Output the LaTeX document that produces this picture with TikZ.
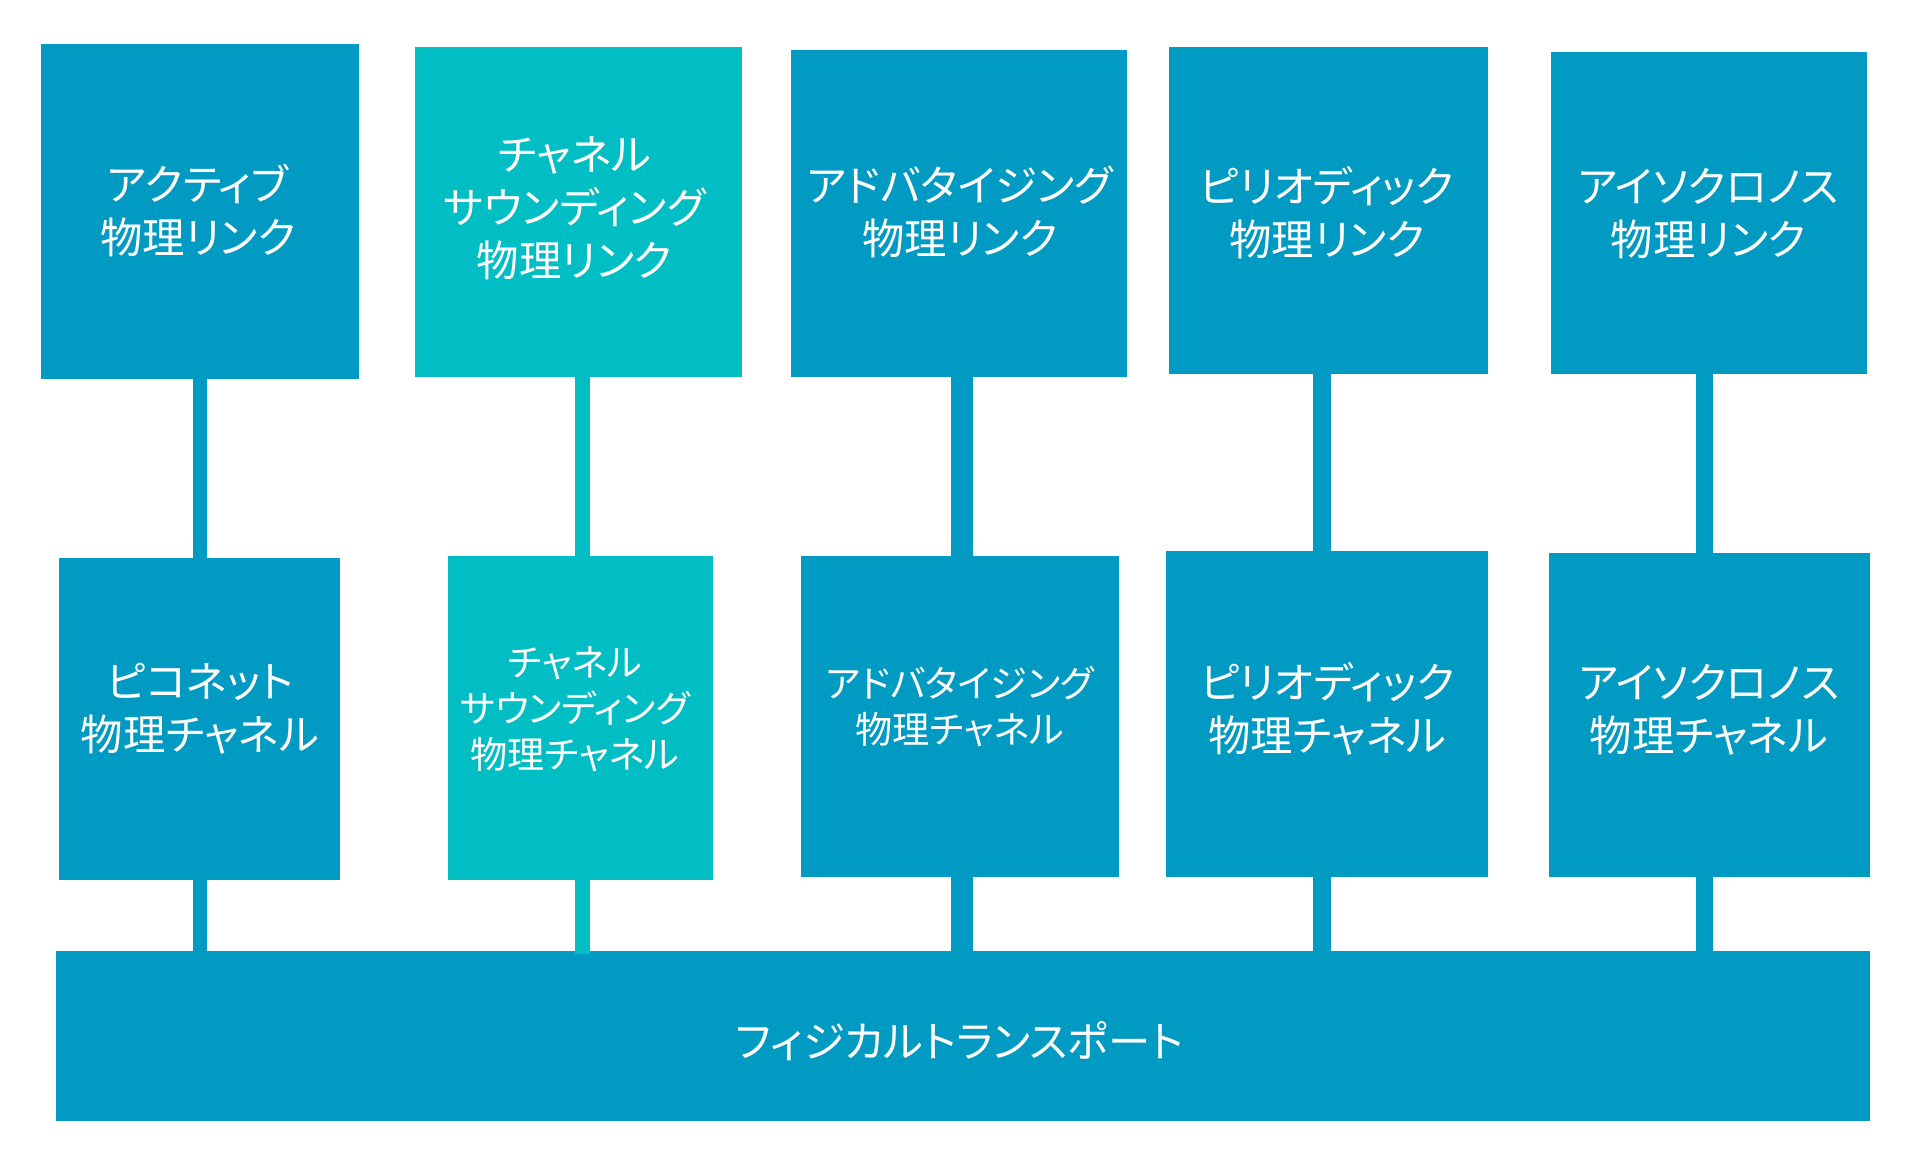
\documentclass[tikz,border=0pt]{standalone}
\usepackage{fontspec}
\newfontfamily\jpfont[RawFeature=+palt]{Noto Sans CJK JP}
\usetikzlibrary{fit}
\definecolor{bblue}{HTML}{009AC2}
\definecolor{bteal}{HTML}{00BEC3}
\begin{document}
\begin{tikzpicture}[x=0.5pt,y=-0.5pt,
  blk/.style={fill=bblue, inner sep=0pt, outer sep=0pt},
  tblk/.style={fill=bteal, inner sep=0pt, outer sep=0pt},
  lbl/.style={text=white, align=center, inner sep=0pt, font=\jpfont\fontsize{21.2pt}{26.5pt}\selectfont},
  slbl/.style={text=white, align=center, inner sep=0pt, font=\jpfont\fontsize{18.6pt}{23pt}\selectfont},
  conn/.style={draw=bblue, line width=#1},
  tconn/.style={draw=bteal, line width=#1}]
\path[fill=white, use as bounding box] (0,0) rectangle (1931,1175);

% top row: physical links
\node[blk,  fit={(40.6,44.3) (359,379)}] (a1) {};
\node[tblk, fit={(415.4,47.3) (741.6,376.7)}] (a2) {};
\node[blk,  fit={(791.4,49.7) (1126.8,376.7)}] (a3) {};
\node[blk,  fit={(1168.7,47.3) (1487.5,374)}] (a4) {};
\node[blk,  fit={(1551,52.3) (1867.4,374)}] (a5) {};
% middle row: physical channels
\node[blk,  fit={(58.9,558) (340.4,879.6)}] (b1) {};
\node[tblk, fit={(447.8,555.7) (712.6,879.6)}] (b2) {};
\node[blk,  fit={(800.5,555.7) (1118.9,877.1)}] (b3) {};
\node[blk,  fit={(1166.2,550.7) (1487.5,877.1)}] (b4) {};
\node[blk,  fit={(1548.7,552.9) (1869.8,877.1)}] (b5) {};
% bottom bar
\node[blk,  fit={(56,951.3) (1870,1121.3)}] (bar) {};

% column axes
\coordinate (x1) at (200,0);
\coordinate (x2) at (582.3,0);
\coordinate (x3) at (961.8,0);
\coordinate (x4) at (1321.8,0);
\coordinate (x5) at (1704.3,0);

% connectors
\draw[conn=7.35pt]  (a1.south -| x1) -- (b1.north -| x1);
\draw[conn=7.35pt]  (b1.south -| x1) -- (bar.north -| x1);
\draw[tconn=7.25pt] (a2.south -| x2) -- (b2.north -| x2);
\draw[tconn=7.25pt] (b2.south -| x2) -- ([yshift=-1.4pt]bar.north -| x2);
\draw[conn=10.8pt]  (a3.south -| x3) -- (b3.north -| x3);
\draw[conn=10.8pt]  (b3.south -| x3) -- (bar.north -| x3);
\draw[conn=8.85pt]  (a4.south -| x4) -- (b4.north -| x4);
\draw[conn=8.85pt]  (b4.south -| x4) -- (bar.north -| x4);
\draw[conn=8.65pt]  (a5.south -| x5) -- (b5.north -| x5);
\draw[conn=8.65pt]  (b5.south -| x5) -- (bar.north -| x5);

% labels
\node[lbl] (t1) at (198,211) {アクティブ\\物理リンク};
\node[lbl] (t2) at (574.5,208.5) {チャネル\\サウンディング\\物理リンク};
\node[lbl] (t3) at (960,212) {アドバタイジング\\物理リンク};
\node[lbl] (t4) at (1327,213) {ピリオディック\\物理リンク};
\node[lbl] (t5) at (1708.5,214) {アイソクロノス\\物理リンク};
\node[lbl] (t6) at (200,709) {ピコネット\\物理チャネル};
\node[slbl] (t7) at (575,709) {チャネル\\サウンディング\\物理チャネル};
\node[slbl] (t8) at (960,707) {アドバタイジング\\物理チャネル};
\node[lbl] (t9) at (1327.5,709) {ピリオディック\\物理チャネル};
\node[lbl] (t10) at (1709,709.5) {アイソクロノス\\物理チャネル};
\node[lbl] (tbar) at (959.5,1041) {フィジカルトランスポート};
\end{tikzpicture}
\end{document}
